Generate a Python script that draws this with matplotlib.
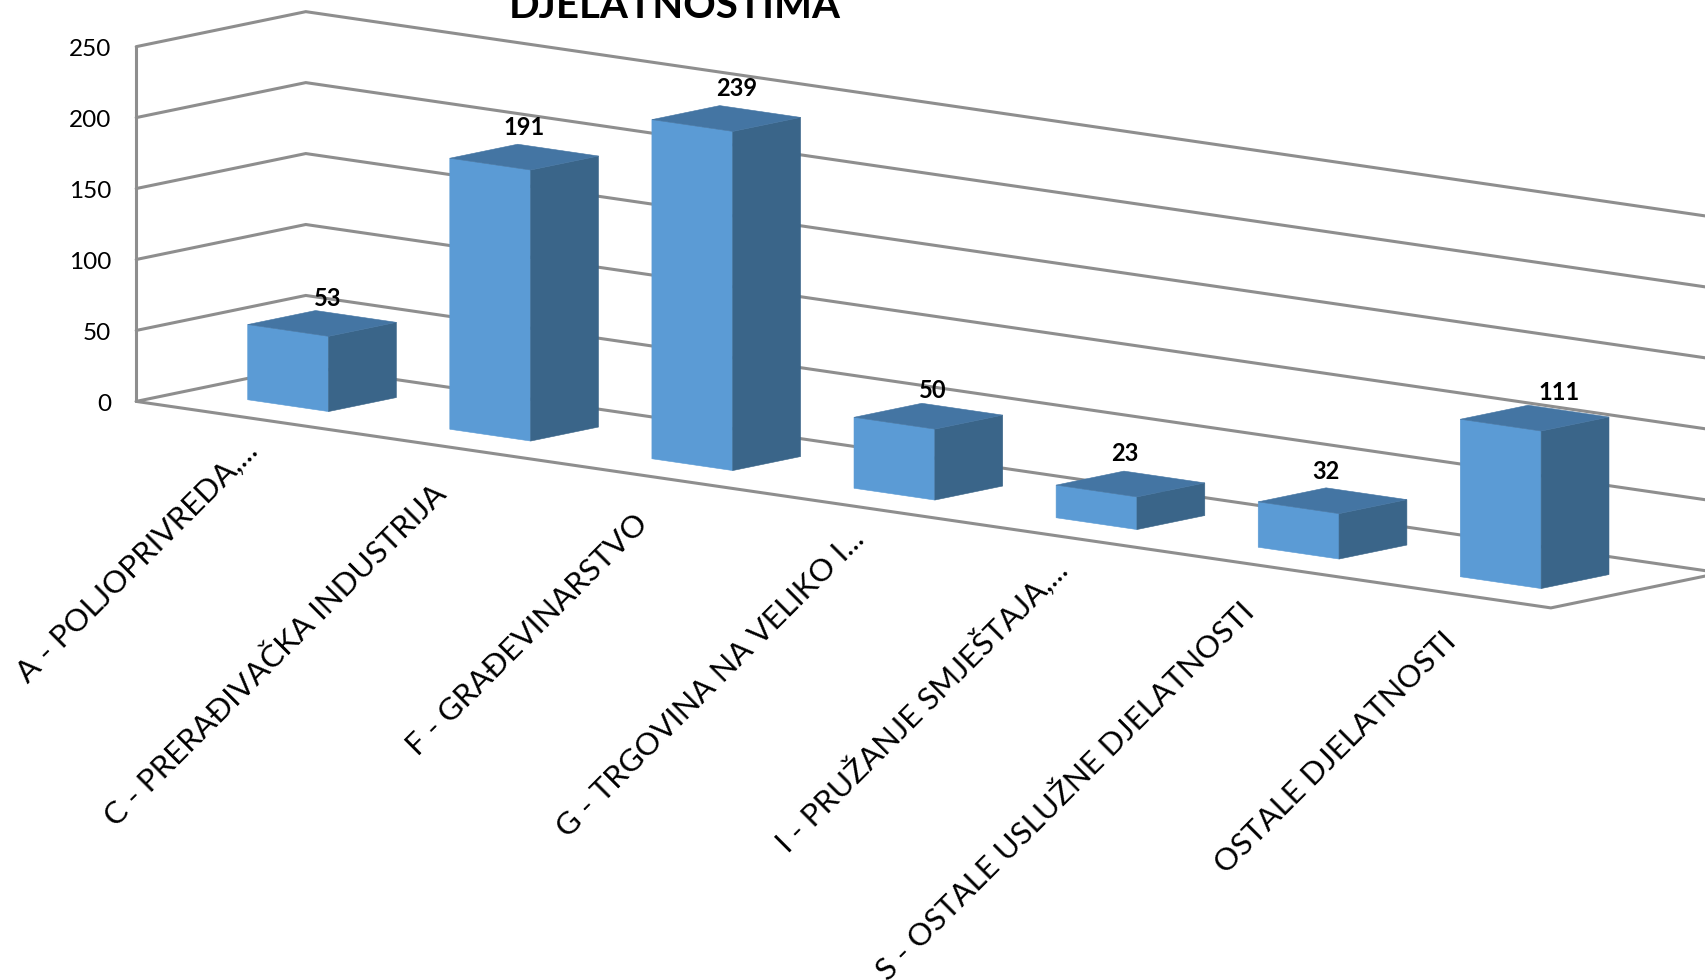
import matplotlib
matplotlib.use('Agg')
import matplotlib.pyplot as plt
from matplotlib.patches import Polygon

categories = ['A - POLJOPRIVREDA,...',
              'C - PRERAĐIVAČKA INDUSTRIJA',
              'F - GRAĐEVINARSTVO',
              'G - TRGOVINA NA VELIKO I...',
              'I - PRUŽANJE SMJEŠTAJA,...',
              'S - OSTALE USLUŽNE DJELATNOSTI',
              'OSTALE DJELATNOSTI']
values = [53, 191, 239, 50, 23, 32, 111]
y_ticks = [0, 50, 100, 150, 200, 250]

# fake 3d projection, measured in pixels on the picture
ORIGIN = (136.2, 401.4)
CAT_STEP = (202.1, 29.5)
DEPTH = (169.6, -35.0)
PX_PER_UNIT = 1.419

GRID = '#8e8e8e'
FRONT = '#5b9bd5'
SIDE = '#3a6589'
TOP = '#4475a3'

# the labels do not sit at the same spot on each bar
label_dx = [12, 6, 17, 11, 1, 0, 31]
label_dy = [-12, -17, -17, -13, -18, -16, -13]


def project(cat, depth, value):
    x = ORIGIN[0] + cat * CAT_STEP[0] + depth * DEPTH[0]
    y = ORIGIN[1] + cat * CAT_STEP[1] + depth * DEPTH[1] - value * PX_PER_UNIT
    return x, y


plt.rcParams['font.family'] = ['Lato', 'DejaVu Sans']
fig = plt.figure(figsize=(17.06, 9.8), dpi=100)
ax = fig.add_axes([0, 0, 1, 1])
ax.set_xlim(0, 1706)
ax.set_ylim(980, 0)
ax.axis('off')

n = len(categories)
line_style = dict(color=GRID, lw=2.2, solid_capstyle='round', solid_joinstyle='miter')

# walls
for tick in y_ticks:
    pts = [project(0, 0, tick), project(0, 1, tick), project(n, 1, tick)]
    ax.plot([p[0] for p in pts], [p[1] for p in pts], **line_style)
    tx, ty = project(0, 0, tick)
    ax.text(tx - 25, ty + 3, str(tick), ha='right', va='center', fontsize=17.5, color='black')

pts = [project(0, 0, 0), project(0, 0, y_ticks[-1])]
ax.plot([p[0] for p in pts], [p[1] for p in pts], **line_style)
pts = [project(0, 0, 0), project(n, 0, 0), project(n, 1, 0)]
ax.plot([p[0] for p in pts], [p[1] for p in pts], **line_style)

# bars
for i, val in enumerate(values):
    left = i + 0.3
    right = i + 0.7
    front_face = [project(left, 0.3, 0), project(right, 0.3, 0),
                  project(right, 0.3, val), project(left, 0.3, val)]
    side_face = [project(right, 0.3, 0), project(right, 0.7, 0),
                 project(right, 0.7, val), project(right, 0.3, val)]
    top_face = [project(left, 0.3, val), project(right, 0.3, val),
                project(right, 0.7, val), project(left, 0.7, val)]
    for face, colour in [(front_face, FRONT), (side_face, SIDE), (top_face, TOP)]:
        ax.add_patch(Polygon(face, closed=True, facecolor=colour, edgecolor=colour, lw=0.4, zorder=3))
    bx, by = project(left, 0.7, val)
    ax.text(bx + label_dx[i], by + label_dy[i], str(val), ha='center', va='center',
            fontsize=17, fontweight='bold', color='black', zorder=4)

# category labels
for i, cat_name in enumerate(categories):
    lx, ly = project(i + 0.5, 0, 0)
    lx += 2
    ly += 44
    if cat_name.endswith('...'):
        # cut labels reach further up in the picture
        lx += 14
        ly -= 14
    ax.text(lx, ly, cat_name, ha='right', va='center', rotation=45,
            rotation_mode='anchor', fontsize=22.5, color='black')

ax.text(675, 18, 'DJELATNOSTIMA', ha='center', va='baseline', fontsize=29,
        fontweight='bold', color='black')

fig.savefig('out.png', dpi=100, facecolor='white')
